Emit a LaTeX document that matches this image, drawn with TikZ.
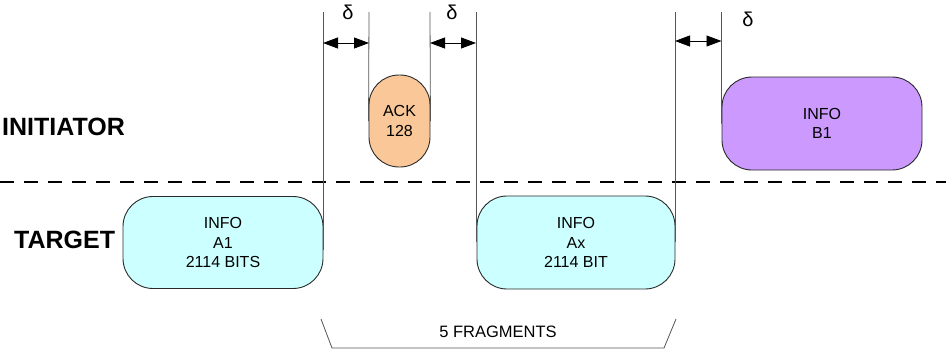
\documentclass[tikz,border=0pt]{standalone}
\usepackage{fontspec}
\setmainfont{Liberation Sans}
\usetikzlibrary{arrows.meta}
\definecolor{cyanbox}{HTML}{CCFFFF}
\definecolor{peach}{HTML}{FAC898}
\definecolor{lilac}{HTML}{CC99FF}
\definecolor{edge}{HTML}{2A2A2A}
\definecolor{guide}{HTML}{555555}
\begin{document}
\begin{tikzpicture}[x=1pt,y=-1pt,
  pkt/.style={draw=edge, line width=0.9pt, rounded corners=30pt, align=center, inner sep=0pt,
    font=\fontsize{16}{19.5}\selectfont},
  guideline/.style={draw=guide, line width=0.8pt},
  gap/.style={line width=0.8pt, {Triangle[length=15pt,width=11pt]}-{Triangle[length=15pt,width=11pt]}},
  dlabel/.style={font=\fontsize{20}{20}\selectfont, inner sep=0pt},
  role/.style={font=\bfseries\fontsize{25}{25}\selectfont, inner sep=0pt, anchor=west}
]
\useasboundingbox (0,0) rectangle (946,351);
% dashed separator
\coordinate (sepL) at (0,182);
\coordinate (sepR) at (946,182);
\draw[line width=2.6pt, dash pattern=on 14pt off 10pt] (sepL) -- (sepR);
% role labels
\node[role] (ini) at (2,127) {INITIATOR};
\node[role] (tgt) at (14,240) {TARGET};
% packets
\node[pkt, fill=cyanbox, minimum width=200pt, minimum height=92pt] (A1) at (223,242.5) {INFO\\A1\\2114 BITS};
\node[pkt, fill=cyanbox, minimum width=198pt, minimum height=93pt] (Ax) at (576,242.5) {INFO\\Ax\\2114 BIT};
\node[pkt, fill=peach, minimum width=61pt, minimum height=92pt] (ACK) at (399.5,121) {ACK\\128};
\node[pkt, fill=lilac, minimum width=200pt, minimum height=93pt] (B1) at (822,123.5) {INFO\\B1};
% guide lines
\coordinate (g1t) at (323,12);  \coordinate (g1b) at (323,250);
\coordinate (g2t) at (369,12);
\coordinate (g3t) at (430,12);
\coordinate (g4t) at (476,12);  \coordinate (g4b) at (476,242);
\coordinate (g5t) at (675,12);  \coordinate (g5b) at (675,242);
\coordinate (g6t) at (721.5,12);
\draw[guideline] (g1t) -- (g1b);
\draw[guideline] (g2t) -- (ACK.west);
\draw[guideline] (g3t) -- (ACK.east);
\draw[guideline] (g4t) -- (g4b);
\draw[guideline] (g5t) -- (g5b);
\draw[guideline] (g6t) -- (B1.west);
% delta arrows
\coordinate (a1l) at (323,43); \coordinate (a1r) at (369,43);
\coordinate (a2l) at (430,43); \coordinate (a2r) at (476,43);
\coordinate (a3l) at (675,41); \coordinate (a3r) at (721.5,41);
\draw[gap] (a1l) -- (a1r);
\draw[gap] (a2l) -- (a2r);
\draw[gap] (a3l) -- (a3r);
\node[dlabel] (d1) at (348,12) {δ};
\node[dlabel] (d2) at (452,12) {δ};
\node[dlabel] (d3) at (748,19) {δ};
% fragments brace
\coordinate (b1) at (321,319);
\coordinate (b2) at (332,348);
\coordinate (b3) at (664,348);
\coordinate (b4) at (676,319);
\draw[guideline] (b1) -- (b2) -- (b3) -- (b4);
\node[font=\fontsize{16.5}{16.5}\selectfont, inner sep=0pt] (frag) at (498,332) {5 FRAGMENTS};
\end{tikzpicture}
\end{document}
